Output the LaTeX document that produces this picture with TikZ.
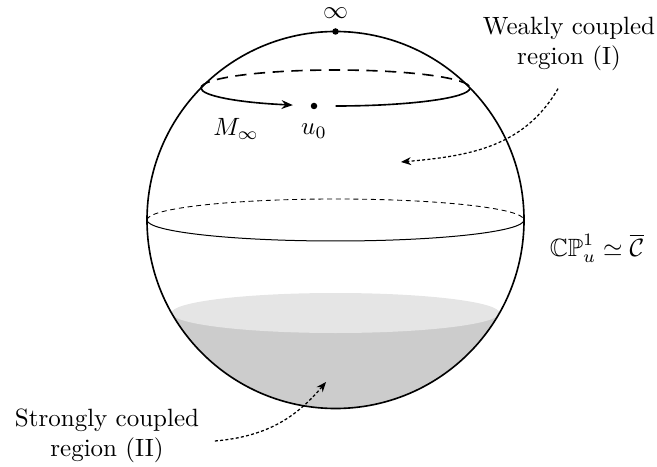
\documentclass[tikz,border=0pt]{standalone}
\usepackage{amsmath}
\usepackage{amsfonts,amssymb}
\usepackage{tikz}
\usetikzlibrary{arrows.meta}
\usetikzlibrary{calc,positioning}

\begin{document}
\begin{tikzpicture}[x=0.4pt,y=0.4pt,
    outline/.style={line width=0.65pt},
    hidden/.style={line width=0.65pt,dash pattern=on 4.5pt off 3pt},
    thinhidden/.style={line width=0.35pt,dash pattern=on 2pt off 1.5pt},
    pointnode/.style={circle,fill=black,inner sep=0pt,minimum size=2.6pt},
    regionarrow/.style={-{Stealth[length=4pt,width=3.2pt]},line width=0.5pt,dash pattern=on 1.2pt off 0.9pt}]
\useasboundingbox (0,0) rectangle (657,466);
%%%%%%%%%%%%%%%%%%%%%%%%%%%%
%%%%%%%%% Shading. %%%%%%%%%
%%%%%%%%%%%%%%%%%%%%%%%%%%%%
\begin{scope}
\clip (335.5,246) circle (188.5);
\fill[black!20] (140,153) rectangle (530,50);
\fill[black!10] (335.5,153) ellipse (164 and 20);
\end{scope}
%%%%%%%%%%%%%%%%%%%%%%%%%%%%
%%%%%%%%% Sphere. %%%%%%%%%%
%%%%%%%%%%%%%%%%%%%%%%%%%%%%
\coordinate (center) at (335.5,246);
\draw[outline] (center) circle (188.5);
\coordinate (eqleft) at (147,246);
\draw[line width=0.4pt] (eqleft) arc[start angle=180,end angle=360,x radius=188.5,y radius=21];
\draw[thinhidden] (eqleft) arc[start angle=180,end angle=0,x radius=188.5,y radius=21];
%%%%%%%%%%%%%%%%%%%%%%%%%%%%
%%%%%%%%% Loop. %%%%%%%%%%%%
%%%%%%%%%%%%%%%%%%%%%%%%%%%%
\coordinate (mleft) at (201,378);
\coordinate (mbottom) at (335.5,360);
\draw[hidden] (mleft) arc[start angle=180,end angle=0,x radius=134.5,y radius=18];
\draw[outline,-{Stealth[length=4.5pt,width=3.5pt]}] (mleft) arc[start angle=180,end angle=251.5,x radius=134.5,y radius=18];
\draw[outline] (mbottom) arc[start angle=270,end angle=360,x radius=134.5,y radius=18];
\node[pointnode] (inftydot) at (335.5,434.5) {};
\node[above=2.3pt of inftydot, inner sep=1pt] (infty) {$\infty$};
\node[pointnode] (u0dot) at (314,360) {};
\node[below=2pt of u0dot] (u0) {$u_0$};
\node (minfty) at (236,337) {$M_\infty$};
%%%%%%%%%%%%%%%%%%%%%%%%%%%%
%%%%%%%%% Labels. %%%%%%%%%%
%%%%%%%%%%%%%%%%%%%%%%%%%%%%
\node[align=center] (weak) at (569,422) {Weakly coupled\\region (I)};
\node[align=center] (strong) at (107,30) {Strongly coupled\\region (II)};
\node (cp) at (597,218) {$\mathbb{CP}^1_u\simeq\overline{\mathcal{C}}$};
\coordinate (weaktip) at (401,304);
\coordinate (strongtip) at (326,84);
\draw[regionarrow] ([shift={(-11,-9)}]weak.south) to[out=-120,in=5] (weaktip);
\draw[regionarrow] ([shift={(7,-5)}]strong.east) to[out=5,in=230] (strongtip);
\end{tikzpicture}
\end{document}
